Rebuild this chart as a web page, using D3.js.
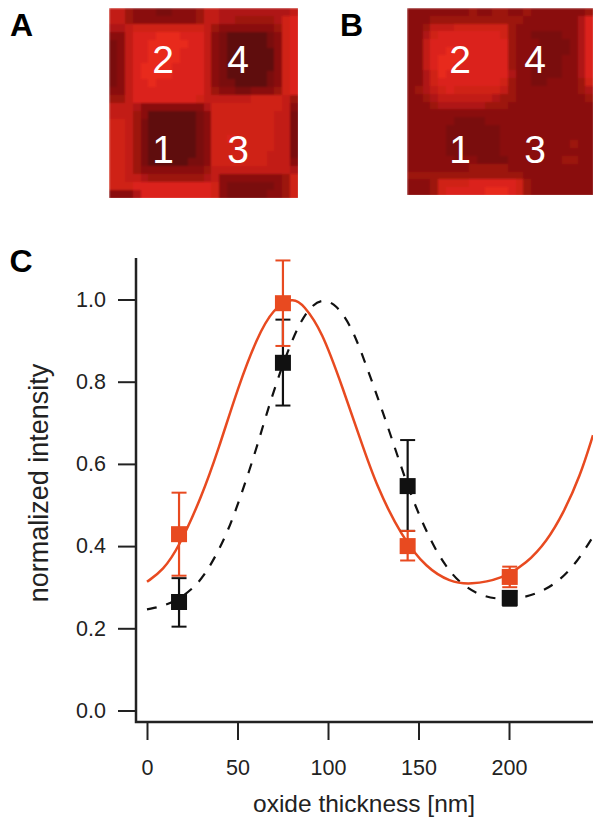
<!DOCTYPE html>
<html>
<head>
<meta charset="utf-8">
<script src="https://cdn.jsdelivr.net/npm/d3@7"></script>
<style>
  html, body { margin: 0; padding: 0; background: #fff; overflow: hidden; }
  svg { display: block; font-family: "Liberation Sans", Arial, sans-serif; }
</style>
</head>
<body>
<svg id="main" width="593" height="817"></svg>
<script>
// brightness of the image cells, 0 dark .. 9 bright, one string per row
const imageA = [
  "664333223334665555555556",
  "664333333334665544444578",
  "556777777777643333333478",
  "336888999888632111112378",
  "236889999988632111112378",
  "236889999888632111111378",
  "236889999888632111111378",
  "236899998888632111111378",
  "236899998888632111112378",
  "236889888888632211112378",
  "336888888888643322333478",
  "446888888887666666777764",
  "666533333333577777777763",
  "666431111112377777777662",
  "776421111112377777777662",
  "776421111112377777777662",
  "776421111112377877777662",
  "776421111112377777777662",
  "776421111112377777776662",
  "776421111122377777776663",
  "776433333333466666666665",
  "776654444444563333333347",
  "777888888888873222222347",
  "333588888888873222223347"
];
const imageB = [
  "333333334334433433333334",
  "333444444444444333333358",
  "334666777777743333333358",
  "335788888888743322223358",
  "336888888888843332222358",
  "336889988888843332222358",
  "336899988888843322223358",
  "336899888888843322223358",
  "335798888888853322223358",
  "335788888888743322333347",
  "345678777777643333333345",
  "334566666665443333333334",
  "333455555544433333333333",
  "333333333333333333333333",
  "333333222233333333333333",
  "333332222222333333333333",
  "333332222222333333333333",
  "333332222222333333333433",
  "333332222222333333333333",
  "333333233222233333334433",
  "333333334444433333333333",
  "444444444444444333333333",
  "333477778888887433333333",
  "333478888899987433333333"
];
const imageLabels = [
  { t: "2", col: 0, row: 0 }, { t: "4", col: 1, row: 0 },
  { t: "1", col: 0, row: 1 }, { t: "3", col: 1, row: 1 }
];

const xTicks = [0, 50, 100, 150, 200];
const yTicks = [0, 0.2, 0.4, 0.6, 0.8, 1.0];

// measured points
const thickness = [17.7, 75.1, 144.0, 200.4];
const redValues = [0.429, 0.991, 0.400, 0.325];
const redHigh = [0.530, 1.095, 0.437, 0.350];
const redLow = [0.328, 0.887, 0.365, 0.300];
const blackValues = [0.264, 0.846, 0.546, 0.274];
const blackHigh = [0.322, 0.951, 0.658, 0.290];
const blackLow = [0.204, 0.742, 0.437, 0.255];

// fitted curves
const redCurve = [[0, 0.313], [9, 0.342], [17.3, 0.395], [30.2, 0.52], [39.4, 0.634], [50.4, 0.788],
  [60.6, 0.906], [69.8, 0.979], [80.8, 1.006], [86.4, 0.987], [96.5, 0.926], [108.5, 0.78], [117.7, 0.662],
  [126.9, 0.545], [140.7, 0.423], [154.5, 0.346], [167.4, 0.313], [178.5, 0.306], [196, 0.32],
  [209.8, 0.358], [220.8, 0.411], [230, 0.48], [239.2, 0.569], [246.4, 0.67]];
const blackCurve = [[0, 0.246], [12.7, 0.257], [25.6, 0.295], [33.9, 0.342], [44, 0.427], [51.4, 0.516],
  [59.7, 0.626], [66.1, 0.723], [73.5, 0.824], [80.8, 0.909], [88.2, 0.974], [96.5, 1.004], [104.8, 0.987],
  [112.2, 0.938], [117.7, 0.881], [125, 0.792], [132.4, 0.699], [139.8, 0.601], [147.1, 0.508], [157.3, 0.407],
  [164.6, 0.354], [172, 0.313], [183, 0.281], [194, 0.27], [206, 0.273], [216.2, 0.285], [226.3, 0.31],
  [236.5, 0.354], [246.4, 0.423]];

const red = "#e84a20";
const black = "#111111";

const svg = d3.select("#main");

const color = d3.scaleLinear()
  .domain([0, 1, 2, 3, 6, 9])
  .range(["#520505", "#5e0707", "#7a0c0a", "#8a0f0c", "#c21b15", "#e8291f"]);

const defs = svg.append("defs");
defs.append("filter").attr("id", "soft")
  .attr("x", "-5%").attr("y", "-5%").attr("width", "110%").attr("height", "110%")
  .append("feGaussianBlur").attr("stdDeviation", 0.9);

function drawImage(id, rows, x0, y0, w, h, labelX, labelY) {
  const cx = d3.scaleBand().domain(d3.range(rows[0].length)).range([x0, x0 + w]);
  const cy = d3.scaleBand().domain(d3.range(rows.length)).range([y0, y0 + h]);

  defs.append("clipPath").attr("id", "clip" + id)
    .append("rect").attr("x", x0).attr("y", y0).attr("width", w).attr("height", h);

  const cells = rows.flatMap((r, j) => Array.from(r).map((v, i) => ({ i, j, v: +v })));

  svg.append("g").attr("clip-path", `url(#clip${id})`)
    .append("g").attr("filter", "url(#soft)")
    .selectAll("rect")
    .data(cells)
    .enter()
    .append("rect")
    .attr("x", d => cx(d.i))
    .attr("y", d => cy(d.j))
    .attr("width", cx.bandwidth() + 1)
    .attr("height", cy.bandwidth() + 1)
    .attr("shape-rendering", "crispEdges")
    .attr("fill", d => color(d.v));

  svg.append("g")
    .selectAll("text")
    .data(imageLabels)
    .enter()
    .append("text")
    .attr("x", d => labelX[d.col])
    .attr("y", d => labelY[d.row])
    .attr("text-anchor", "middle")
    .attr("font-size", 39)
    .attr("fill", "#fff")
    .text(d => d.t);
}

drawImage("A", imageA, 109, 8, 189, 190, [163, 238], [73, 163]);
drawImage("B", imageB, 407, 8, 186, 187, [460, 535], [73, 163]);

// panel letters
svg.append("g")
  .selectAll("text")
  .data([["A", 10, 36], ["B", 340, 36], ["C", 9.5, 272]])
  .enter()
  .append("text")
  .attr("x", d => d[1])
  .attr("y", d => d[2])
  .attr("font-size", 32)
  .attr("font-weight", "bold")
  .attr("fill", "#000")
  .text(d => d[0]);

// chart C
const x = d3.scaleLinear().domain([0, 246.4]).range([147, 593]);
const y = d3.scaleLinear().domain([0, 1]).range([710.5, 299.5]);

const yAxis = d3.axisLeft(y).tickValues(yTicks).tickFormat(d3.format(".1f")).tickSize(18).tickPadding(12);
const xAxis = d3.axisBottom(x).tickValues(xTicks).tickSize(18).tickPadding(20);

svg.append("g")
  .attr("transform", "translate(136,0)")
  .call(yAxis)
  .call(g => g.select(".domain").remove())
  .call(g => g.selectAll("line").attr("stroke", "#222").attr("stroke-width", 2))
  .call(g => g.selectAll("text").attr("font-size", 21.5).attr("fill", "#222").attr("font-family", "Liberation Sans"));

svg.append("g")
  .attr("transform", "translate(0,722)")
  .call(xAxis)
  .call(g => g.select(".domain").remove())
  .call(g => g.selectAll("line").attr("stroke", "#222").attr("stroke-width", 2))
  .call(g => g.selectAll("text").attr("font-size", 21.5).attr("fill", "#222").attr("font-family", "Liberation Sans"));

svg.append("path")
  .attr("d", "M136,258V722H593")
  .attr("fill", "none")
  .attr("stroke", "#222")
  .attr("stroke-width", 2.5);

const line = d3.line()
  .x(d => x(d[0]))
  .y(d => y(d[1]))
  .curve(d3.curveBasis);

svg.append("path")
  .attr("d", line(blackCurve))
  .attr("fill", "none")
  .attr("stroke", black)
  .attr("stroke-width", 2.2)
  .attr("stroke-dasharray", "10,10");

svg.append("path")
  .attr("d", line(redCurve))
  .attr("fill", "none")
  .attr("stroke", red)
  .attr("stroke-width", 2.5);

function drawSeries(values, high, low, col) {
  const g = svg.append("g");
  const pts = thickness.map((t, i) => ({ t, v: values[i], hi: high[i], lo: low[i] }));

  g.selectAll(".stem").data(pts).enter().append("line")
    .attr("x1", d => x(d.t)).attr("x2", d => x(d.t))
    .attr("y1", d => y(d.hi)).attr("y2", d => y(d.lo))
    .attr("stroke", col).attr("stroke-width", 2.2);

  [d => d.hi, d => d.lo].forEach(f => {
    g.selectAll(null).data(pts).enter().append("line")
      .attr("x1", d => x(d.t) - 7.5).attr("x2", d => x(d.t) + 7.5)
      .attr("y1", d => y(f(d))).attr("y2", d => y(f(d)))
      .attr("stroke", col).attr("stroke-width", 2);
  });

  g.selectAll("rect").data(pts).enter().append("rect")
    .attr("x", d => x(d.t) - 8).attr("y", d => y(d.v) - 8)
    .attr("width", 16).attr("height", 16)
    .attr("fill", col);
}

drawSeries(blackValues, blackHigh, blackLow, black);
drawSeries(redValues, redHigh, redLow, red);

svg.append("text")
  .attr("x", 364).attr("y", 812)
  .attr("text-anchor", "middle")
  .attr("font-size", 24.5)
  .attr("fill", "#222")
  .text("oxide thickness [nm]");

svg.append("text")
  .attr("transform", "translate(48,483) rotate(-90)")
  .attr("text-anchor", "middle")
  .attr("font-size", 27)
  .attr("fill", "#222")
  .text("normalized intensity");
</script>
</body>
</html>
